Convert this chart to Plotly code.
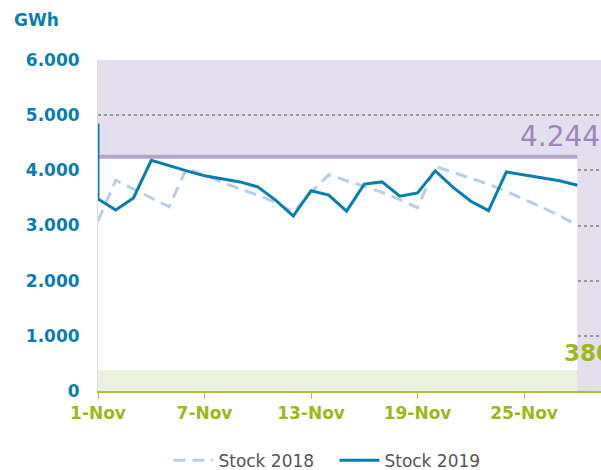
import plotly.graph_objects as go

dates = [f"2019-11-{d:02d}" for d in range(1, 29)]
axis_end = "2019-11-29 08:00"

stock_2018 = [3080, 3820, 3660, 3500, 3340, 4040, 3910, 3780, 3660, 3550,
              3420, 3240, 3600, 3920, 3810, 3700, 3600, 3470, 3320, 4070,
              3960, 3850, 3750, 3620, 3480, 3330, 3180, 3000]
stock_2019 = [3480, 3280, 3500, 4180, 4080, 3990, 3900, 3840, 3790, 3700,
              3460, 3170, 3630, 3550, 3260, 3750, 3790, 3530, 3590, 3990,
              3690, 3440, 3270, 3970, 3920, 3870, 3810, 3730]
stock_2019_open = 4850  # value just before the first day

max_level = 4244
min_level = 380

BLUE = "#0b7db0"
GREEN = "#9cb81a"
PURPLE_BG = "#e4dfec"

fig = go.Figure()
fig.add_trace(go.Scatter(
    x=dates, y=stock_2018, mode="lines", name="Stock 2018",
    line=dict(color="#b9cfe6", width=3, dash="12px,7px")
))
fig.add_trace(go.Scatter(
    x=[dates[0]] + dates, y=[stock_2019_open] + stock_2019, mode="lines", name="Stock 2019",
    line=dict(color=BLUE, width=3)
))

# white band between the min and max levels, green band below the minimum
fig.add_shape(type="rect", xref="x", yref="y", x0=dates[0], x1=dates[-1], y0=min_level, y1=max_level,
              fillcolor="white", line_width=0, layer="between")
fig.add_shape(type="rect", xref="x", yref="y", x0=dates[0], x1=dates[-1], y0=0, y1=min_level,
              fillcolor="#ebf0df", line_width=0, layer="between")
fig.add_shape(type="line", xref="x", yref="y", x0=dates[0], x1=dates[-1], y0=max_level, y1=max_level,
              line=dict(color="#b4a3cb", width=4), layer="between")

fig.add_annotation(text=f"{max_level/1000:.3f}", x=0.834, xref="paper", y=4620, yref="y",
                   xanchor="left", yanchor="middle", showarrow=False,
                   font=dict(size=28, color="#9c87bf"))
fig.add_annotation(text=f"{min_level}", x=0.922, xref="paper", y=680, yref="y",
                   xanchor="left", yanchor="middle", showarrow=False,
                   font=dict(size=23, color=GREEN, weight="bold"))
fig.add_annotation(text="GWh", x=-0.17, xref="paper", y=1.12, yref="paper",
                   xanchor="left", yanchor="middle", showarrow=False,
                   font=dict(size=17, color=BLUE, weight="bold"))

fig.update_layout(
    width=601, height=470,
    margin=dict(l=98, r=0, t=60, b=79),
    paper_bgcolor="white",
    plot_bgcolor=PURPLE_BG,
    separators=",.",
    font=dict(family="DejaVu Sans", size=17, color="#555555"),
    xaxis=dict(
        type="date",
        range=[dates[0], axis_end],
        tick0=dates[0],
        dtick=6 * 86400000,
        tickformat="%-d-%b",
        showgrid=False,
        showline=True, linecolor="#a9c43a", linewidth=1.5,
        ticks="outside", ticklen=6, tickcolor="#a9c43a",
        tickfont=dict(size=17, color=GREEN, weight="bold"),
        zeroline=False,
        automargin=False,
    ),
    yaxis=dict(
        range=[0, 6000],
        dtick=1000,
        tickformat=",",
        showgrid=True, gridcolor="#9a9a9a", gridwidth=2, griddash="dot",
        showline=True, linecolor="#dcdcdc", linewidth=1,
        zeroline=False,
        ticklabelstandoff=14,
        tickfont=dict(size=17, color=BLUE, weight="bold"),
        automargin=False,
    ),
    legend=dict(orientation="h", x=0.14, xanchor="left",
                yref="container", y=0.02, yanchor="middle",
                itemwidth=40, entrywidth=111, entrywidthmode="pixels",
                font=dict(size=17, color="#555555")),
)

fig.write_html("out.html", config={"displayModeBar": False},
               post_script="document.body.style.margin = '0';")
